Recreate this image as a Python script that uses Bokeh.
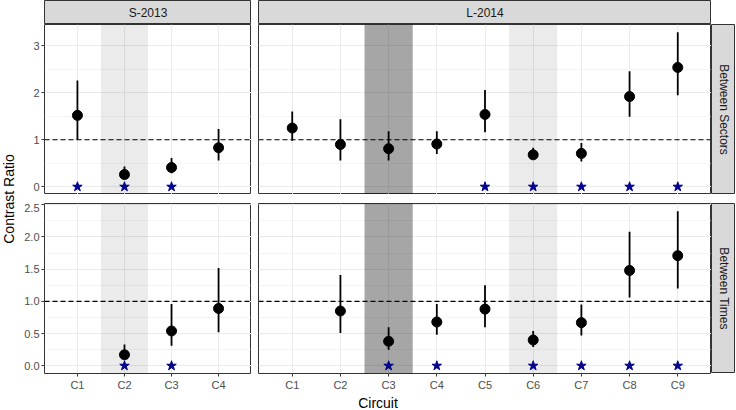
import math
from bokeh.plotting import figure
from bokeh.layouts import row, column
from bokeh.models import (FactorRange, Range1d, FixedTicker, PrintfTickFormatter,
                          Span, Spacer)
from bokeh.core.properties import value
from bokeh.embed import file_html
from bokeh.resources import INLINE

nan = float("nan")

# ---------------- data ----------------
studies = ["S-2013", "L-2014"]
comparisons = ["Between Sectors", "Between Times"]
circuits_s2013 = ["C1", "C2", "C3", "C4"]
circuits_l2014 = ["C1", "C2", "C3", "C4", "C5", "C6", "C7", "C8", "C9"]

# Between Sectors, S-2013
sec_s_est = [1.52, 0.26, 0.41, 0.83]
sec_s_lo = [1.00, 0.17, 0.29, 0.56]
sec_s_hi = [2.26, 0.43, 0.61, 1.23]
sec_s_sig = [1, 1, 1, 0]

# Between Sectors, L-2014
sec_l_est = [1.25, 0.90, 0.81, 0.91, 1.54, 0.68, 0.71, 1.92, 2.54]
sec_l_lo = [0.98, 0.56, 0.56, 0.70, 1.16, 0.59, 0.54, 1.49, 1.95]
sec_l_hi = [1.60, 1.44, 1.18, 1.18, 2.06, 0.83, 0.93, 2.46, 3.29]
sec_l_sig = [0, 0, 0, 0, 1, 1, 1, 1, 1]

# Between Times, S-2013 (C1 not estimated)
tim_s_est = [nan, 0.17, 0.54, 0.89]
tim_s_lo = [nan, 0.11, 0.31, 0.52]
tim_s_hi = [nan, 0.33, 0.96, 1.52]
tim_s_sig = [0, 1, 1, 0]

# Between Times, L-2014 (C1 not estimated)
tim_l_est = [nan, 0.85, 0.38, 0.68, 0.88, 0.40, 0.67, 1.48, 1.71]
tim_l_lo = [nan, 0.51, 0.25, 0.48, 0.60, 0.29, 0.47, 1.06, 1.20]
tim_l_hi = [nan, 1.41, 0.60, 0.96, 1.25, 0.54, 0.95, 2.08, 2.40]
tim_l_sig = [0, 0, 1, 1, 0, 1, 1, 1, 1]

# highlighted circuits (background bands)
shade_s2013_light = ["C2"]
shade_l2014_dark = ["C3"]
shade_l2014_light = ["C6"]

y_ticks_sectors = [0, 1, 2, 3]
y_minor_sectors = [0.5, 1.5, 2.5]
y_ticks_times = [0.0, 0.5, 1.0, 1.5, 2.0, 2.5]
y_minor_times = [0.25, 0.75, 1.25, 1.75, 2.25]
reference_ratio = 1.0
sig_level = 0.0

# ---------------- styling / layout ----------------
FONT = "Liberation Sans"
YTITLE_W = 20
AXIS_W = 24
XAXIS_H = 18
XTITLE_H = 18
STRIP = 24
STRIP_R = 24
FW1, FW2 = 207, 453
FH = 170
GAP_X, GAP_Y = 7, 9
GRID = "#EBEBEB"
DARK = "#333333"


def y_range_for(*series):
    vals = [v for s in series for v in s if not math.isnan(v)] + [sig_level]
    lo, hi = min(vals), max(vals)
    pad = 0.05 * (hi - lo)
    return (lo - pad, hi + pad)


def make_panel(circuits, est, lo, hi, sig, shades, yr, ticks, minor, fmt,
               first_col, bottom_row, fw):
    p = figure(x_range=FactorRange(factors=circuits, range_padding=0.2,
                                   range_padding_units="absolute"),
               y_range=Range1d(*yr), frame_width=fw, frame_height=FH,
               output_backend="svg", toolbar_location=None,
               min_border_left=AXIS_W if first_col else 0, min_border_right=0,
               min_border_top=0, min_border_bottom=XAXIS_H if bottom_row else 0)
    p.background_fill_color = "white"
    p.border_fill_color = "white"
    p.outline_line_color = DARK
    p.outline_line_width = 1

    tk = FixedTicker(ticks=ticks, minor_ticks=minor)
    p.yaxis.ticker = tk
    p.ygrid.ticker = tk
    p.yaxis.formatter = PrintfTickFormatter(format=fmt)
    p.ygrid.grid_line_color = GRID
    p.ygrid.grid_line_width = 1
    p.ygrid.minor_grid_line_color = GRID
    p.ygrid.minor_grid_line_width = 0.5
    p.xgrid.grid_line_color = GRID
    p.xgrid.grid_line_width = 1

    for ax in p.axis:
        ax.axis_line_color = None
        ax.major_tick_out = 3
        ax.major_tick_in = 0
        ax.minor_tick_out = 0
        ax.minor_tick_in = 0
        ax.major_tick_line_color = DARK
        ax.major_label_standoff = 2
        ax.major_label_text_font = FONT
        ax.major_label_text_font_size = "11px"
        ax.major_label_text_color = "#4D4D4D"
    if not first_col:
        p.yaxis.visible = False
    if not bottom_row:
        p.xaxis.visible = False

    for cats, alpha in shades:
        if cats:
            p.vbar(x=cats, width=1, bottom=yr[0], top=yr[1], fill_color="black",
                   fill_alpha=alpha, line_color=None)

    p.add_layout(Span(location=reference_ratio, dimension="width",
                      line_color="black", line_width=1.1, line_dash="5 3"))

    idx = [i for i in range(len(circuits)) if not math.isnan(est[i])]
    xs = [circuits[i] for i in idx]
    p.segment(x0=xs, y0=[lo[i] for i in idx], x1=xs, y1=[hi[i] for i in idx],
              line_color="black", line_width=1.8)
    p.scatter(x=xs, y=[est[i] for i in idx], size=10, color="black")

    sx = [c for c, s in zip(circuits, sig) if s]
    p.scatter(x=sx, y=[sig_level] * len(sx), marker="star", size=10,
              color="#00008B")
    return p


def make_strip(label, w, h, vertical=False):
    s = figure(x_range=Range1d(0, 1), y_range=Range1d(0, 1), frame_width=w,
               frame_height=h, output_backend="svg", toolbar_location=None,
               x_axis_location=None, y_axis_location=None,
               min_border_left=0, min_border_right=0, min_border_top=0,
               min_border_bottom=0)
    s.grid.visible = False
    s.background_fill_color = "#D9D9D9"
    s.border_fill_color = "white"
    s.outline_line_color = DARK
    s.text(x=[0.5], y=[0.5], text=[label], angle=-math.pi / 2 if vertical else 0,
           text_align="center", text_baseline="middle", text_color="#1A1A1A",
           text_font=value(FONT), text_font_size="12px")
    return s


def make_label(label, w, h, angle=0.0, xpos=0.5):
    s = figure(x_range=Range1d(0, 1), y_range=Range1d(0, 1), frame_width=w,
               frame_height=h, output_backend="svg", toolbar_location=None,
               x_axis_location=None, y_axis_location=None,
               min_border_left=0, min_border_right=0, min_border_top=0,
               min_border_bottom=0)
    s.grid.visible = False
    s.outline_line_color = None
    s.background_fill_color = "white"
    s.border_fill_color = "white"
    s.text(x=[xpos], y=[0.5], text=[label], angle=angle, text_align="center",
           text_baseline="middle", text_color="black", text_font=value(FONT),
           text_font_size="14px")
    return s


yr_sec = y_range_for(sec_s_lo, sec_s_hi, sec_l_lo, sec_l_hi)
yr_tim = y_range_for(tim_s_lo, tim_s_hi, tim_l_lo, tim_l_hi)

shades_s = [(shade_s2013_light, 0.08)]
shades_l = [(shade_l2014_dark, 0.35), (shade_l2014_light, 0.08)]

p11 = make_panel(circuits_s2013, sec_s_est, sec_s_lo, sec_s_hi, sec_s_sig, shades_s,
                 yr_sec, y_ticks_sectors, y_minor_sectors, "%.0f", True, False, FW1)
p12 = make_panel(circuits_l2014, sec_l_est, sec_l_lo, sec_l_hi, sec_l_sig, shades_l,
                 yr_sec, y_ticks_sectors, y_minor_sectors, "%.0f", False, False, FW2)
p21 = make_panel(circuits_s2013, tim_s_est, tim_s_lo, tim_s_hi, tim_s_sig, shades_s,
                 yr_tim, y_ticks_times, y_minor_times, "%.1f", True, True, FW1)
p22 = make_panel(circuits_l2014, tim_l_est, tim_l_lo, tim_l_hi, tim_l_sig, shades_l,
                 yr_tim, y_ticks_times, y_minor_times, "%.1f", False, True, FW2)

strip_top = row(Spacer(width=AXIS_W, height=STRIP), make_strip(studies[0], FW1, STRIP),
                Spacer(width=GAP_X, height=STRIP), make_strip(studies[1], FW2, STRIP),
                Spacer(width=STRIP_R, height=STRIP))
row1 = row(p11, Spacer(width=GAP_X, height=FH), p12,
           make_strip(comparisons[0], STRIP_R, FH, vertical=True))
row2 = row(p21, Spacer(width=GAP_X, height=FH + XAXIS_H), p22,
           column(make_strip(comparisons[1], STRIP_R, FH, vertical=True),
                  Spacer(width=STRIP_R, height=XAXIS_H)))
xtitle = row(Spacer(width=AXIS_W, height=XTITLE_H),
             make_label("Circuit", FW1 + GAP_X + FW2, XTITLE_H))
main = column(strip_top, row1, Spacer(width=10, height=GAP_Y), row2, xtitle)

ytitle = column(Spacer(width=YTITLE_W, height=STRIP),
                make_label("Contrast Ratio", YTITLE_W, 2 * FH + GAP_Y,
                           angle=math.pi / 2, xpos=0.4),
                Spacer(width=YTITLE_W, height=XAXIS_H + XTITLE_H))

layout = row(ytitle, main)

open("out.html", "w").write(file_html(layout, INLINE))
